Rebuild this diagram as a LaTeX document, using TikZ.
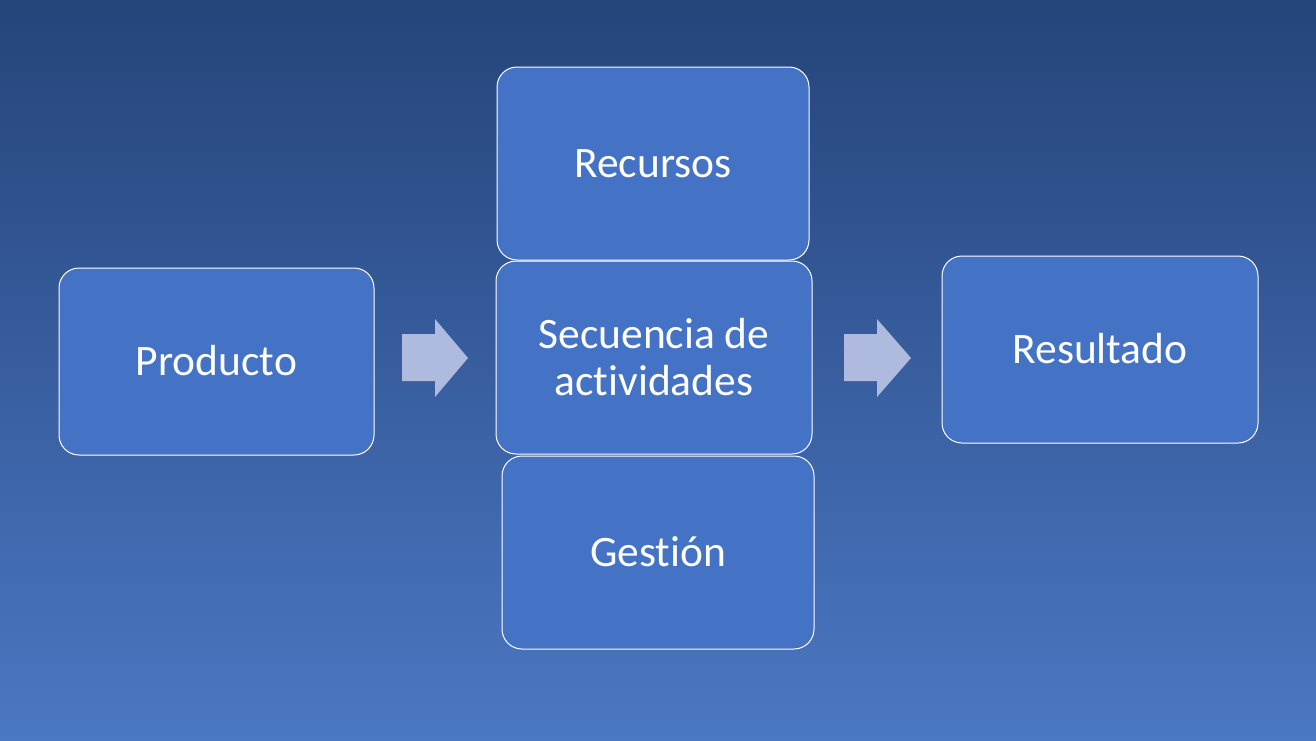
\documentclass[tikz,border=0pt]{standalone}
\usepackage{fontspec}
\setmainfont{Carlito}[Ligatures={NoCommon}]
\definecolor{bgtop}{HTML}{25447A}
\definecolor{bgbot}{HTML}{4B78C3}
\definecolor{boxfill}{HTML}{4472C4}
\definecolor{arrowfill}{HTML}{AEBBDE}
\begin{document}
\begin{tikzpicture}[x=1pt,y=-1pt,
  box/.style={draw=white, line width=1pt, fill=boxfill, rounded corners=20pt,
    inner sep=0pt, align=center, text=white,
    font=\fontsize{43.5}{47}\selectfont},
  blockarrow/.style={fill=arrowfill, draw=none}]
\useasboundingbox (0,0) rectangle (1316,740);
\shade[top color=bgtop, bottom color=bgbot] (0,0) rectangle (1316,740);
\node[box, minimum width=315pt, minimum height=187pt] (prod) at (216.5,361.5) {\raisebox{3pt}{Producto}};
\node[box, minimum width=312pt, minimum height=193pt] (rec) at (653,163.5) {Recursos};
\node[box, minimum width=316pt, minimum height=193pt] (sec) at (654,357.5) {Secuencia de\\actividades};
\node[box, minimum width=312pt, minimum height=193pt] (ges) at (658,552.5) {\raisebox{2pt}{Gestión}};
\node[box, minimum width=316pt, minimum height=187pt] (res) at (1100,349.5) {\raisebox{2pt}{Resultado}};
\fill[blockarrow] (402,334) -- (435,334) -- (435,319) -- (468,358) -- (435,397) -- (435,381) -- (402,381) -- cycle;
\fill[blockarrow] (844,334) -- (877,334) -- (877,319) -- (911,358) -- (877,397) -- (877,381) -- (844,381) -- cycle;
\end{tikzpicture}
\end{document}
